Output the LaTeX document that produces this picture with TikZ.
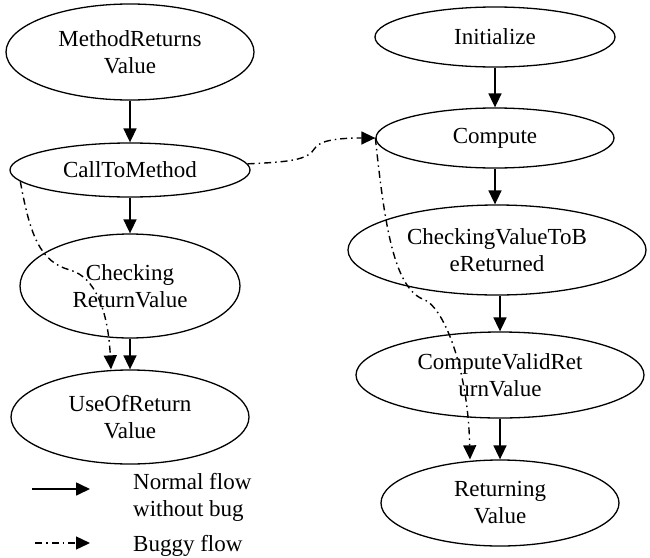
\documentclass[tikz,border=0pt]{standalone}
\usepackage{fontspec}
\setmainfont{Liberation Serif}
\usetikzlibrary{shapes.geometric, arrows.meta}

\tikzset{
    state/.style={draw, ellipse, line width=1.3pt, inner sep=0pt, align=center,
        font=\fontsize{23}{27}\selectfont},
    legend/.style={inner sep=0pt, align=left, font=\fontsize{23}{27}\selectfont},
    flow/.style={line width=1.7pt, -{Triangle[length=14pt, width=13pt]}},
    bug/.style={line width=1.4pt, dash pattern=on 7pt off 4pt on 1.5pt off 4pt,
        -{Triangle[length=14pt, width=13pt]}},
}

\begin{document}
\begin{tikzpicture}[x=1pt, y=-1pt]
            \useasboundingbox (0,0) rectangle (650,557);

            % left column
            \node[state, minimum width=248pt, minimum height=96pt] (mrv) at (130,52) {MethodReturns\\Value};
            \node[state, minimum width=240pt, minimum height=54pt] (call) at (130,170) {CallToMethod};
            \node[state, minimum width=220pt, minimum height=104pt] (chk) at (130,286) {Checking\\ReturnValue};
            \node[state, minimum width=238pt, minimum height=94pt] (use) at (130,417) {UseOfReturn\\Value};

            % right column
            \node[state, minimum width=240pt, minimum height=60pt] (init) at (495,37) {Initialize};
            \node[state, minimum width=238pt, minimum height=60pt] (comp) at (495,138) {Compute};
            \node[state, minimum width=298pt, minimum height=90pt] (cvr) at (497,250) {CheckingValueToB\\eReturned};
            \node[state, minimum width=288pt, minimum height=86pt] (cvalid) at (500,375) {ComputeValidRet\\urnValue};
            \node[state, minimum width=238pt, minimum height=86pt] (ret) at (500,503) {Returning\\Value};

            % normal flow
            \draw[flow] (mrv) -- (call);
            \draw[flow] (call) -- (chk);
            \draw[flow] (chk) -- (use);
            \draw[flow] (init) -- (comp);
            \draw[flow] (comp.south) -- (comp.south |- cvr.north);
            \draw[flow] (cvr.south -| cvalid.north) -- (cvalid.north);
            \draw[flow] (cvalid) -- (ret);

            % buggy flow
            \draw[bug] (call.186) .. controls (30,235) and (40,262) .. (70,270)
                .. controls (95,277) and (108,310) .. ([xshift=-19pt]use.north);
            \draw[bug] (call.3) .. controls (290,162) and (308,160) .. (315,148)
                .. controls (320,140) and (340,138) .. (comp.west);
            \draw[bug] (comp.west) .. controls (385,230) and (395,290) .. (425,300)
                .. controls (445,310) and (468,370) .. ([xshift=-30pt]ret.north);

            % legend
            \coordinate (nfrom) at (32,489);
            \coordinate (nto) at (90,489);
            \draw[flow] (nfrom) -- (nto);
            \node[legend, anchor=west] (ntext) at (133,497) {Normal flow\\without bug};

            \coordinate (bfrom) at (35,543);
            \coordinate (bto) at (90,543);
            \draw[bug] (bfrom) -- (bto);
            \node[legend, anchor=base west] (btext) at (133,551) {Buggy flow};

        \end{tikzpicture}
\end{document}
